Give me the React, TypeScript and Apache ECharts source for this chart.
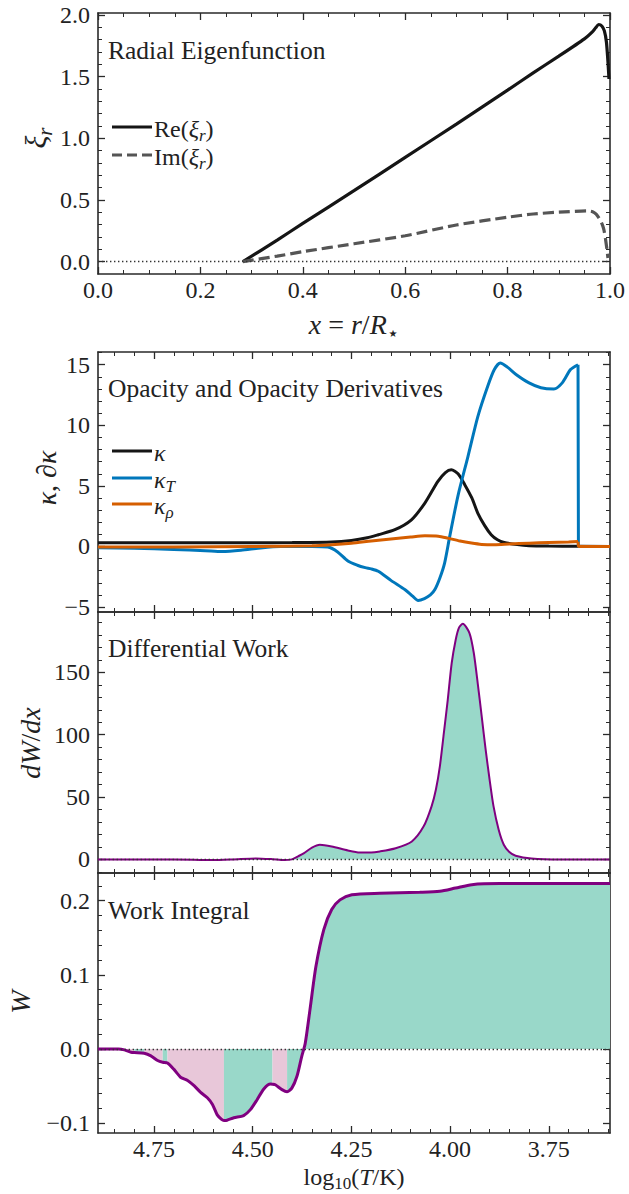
import React, { useEffect, useRef } from 'react';
import * as echarts from 'echarts';

// ---------------- tick labels ----------------
const XI_X_TICKS = [0, 0.2, 0.4, 0.6, 0.8, 1.0];
const XI_Y_TICKS = [0, 0.5, 1.0, 1.5, 2.0];
const LOGT_TICKS = [4.75, 4.5, 4.25, 4.0, 3.75];
const KAPPA_TICKS = [-5, 0, 5, 10, 15];
const DWDX_TICKS = [0, 50, 100, 150];
const W_TICKS = [-0.1, 0, 0.1, 0.2];

// ---------------- panel 1: radial eigenfunction (x = r/R*, xi_r) ----------------
const XI_RE: [number, number][] = [
  [0.283, 0], [0.35, 0.175], [0.4, 0.31], [0.5, 0.575], [0.6, 0.845], [0.7, 1.115],
  [0.8, 1.39], [0.85, 1.53], [0.9, 1.665], [0.95, 1.805], [0.965, 1.86], [0.972, 1.895],
  [0.978, 1.922], [0.984, 1.91], [0.989, 1.87], [0.993, 1.78], [0.996, 1.62], [0.998, 1.48],
];
const XI_IM: [number, number][] = [
  [0.283, 0], [0.35, 0.045], [0.4, 0.081], [0.5, 0.145], [0.6, 0.21], [0.7, 0.297],
  [0.8, 0.36], [0.85, 0.386], [0.9, 0.401], [0.957, 0.411], [0.966, 0.405], [0.973, 0.385],
  [0.979, 0.35], [0.984, 0.31], [0.988, 0.26], [0.991, 0.19], [0.994, 0.1], [0.996, 0.03],
];

// ---------------- panel 2: opacity and derivatives (log10 T, value) ----------------
const KAPPA: [number, number][] = [
  [4.892, 0.3], [4.7, 0.3], [4.5, 0.3], [4.4, 0.32], [4.3, 0.37], [4.25, 0.5], [4.21, 0.72],
  [4.182, 0.97], [4.14, 1.38], [4.098, 2.2], [4.064, 3.58], [4.031, 5.37], [4.012, 6.1],
  [3.997, 6.33], [3.98, 6.0], [3.963, 5.1], [3.945, 4.0], [3.93, 2.76], [3.912, 1.7],
  [3.896, 0.97], [3.88, 0.55], [3.863, 0.33], [3.83, 0.15], [3.8, 0.06], [3.75, 0.03], [3.676, 0.02],
];
const KAPPA_TAIL: [number, number][] = [[3.676, 0.02], [3.675, 0], [3.595, 0]];
const KAPPA_T: [number, number][] = [
  [4.892, -0.1], [4.8, -0.15], [4.7, -0.25], [4.62, -0.35], [4.578, -0.42], [4.53, -0.32],
  [4.48, -0.12], [4.43, 0.0], [4.35, 0.0], [4.31, -0.05], [4.285, -0.45], [4.259, -1.2],
  [4.235, -1.55], [4.215, -1.75], [4.2, -1.85], [4.182, -2.05], [4.15, -2.8], [4.114, -3.58],
  [4.095, -4.1], [4.081, -4.46], [4.065, -4.3], [4.05, -4.0], [4.039, -3.58], [4.026, -2.6],
  [4.014, -1.37], [4.001, 0.83], [3.98, 4.2], [3.955, 7.4], [3.93, 10.7], [3.905, 13.2],
  [3.888, 14.6], [3.873, 15.14], [3.855, 14.8], [3.833, 14.2], [3.8, 13.5], [3.77, 13.1],
  [3.737, 13.0], [3.716, 13.5], [3.695, 14.6], [3.676, 15.0],
];
const KAPPA_T_TAIL: [number, number][] = [[3.676, 15.0], [3.675, 0], [3.595, 0]];
const KAPPA_RHO: [number, number][] = [
  [4.892, -0.05], [4.7, -0.05], [4.5, 0.0], [4.35, 0.05], [4.3, 0.14], [4.25, 0.27], [4.2, 0.45],
  [4.15, 0.62], [4.1, 0.78], [4.064, 0.88], [4.03, 0.85], [4.006, 0.69], [3.975, 0.45],
  [3.946, 0.28], [3.92, 0.17], [3.888, 0.14], [3.85, 0.2], [3.8, 0.27], [3.75, 0.32],
  [3.7, 0.37], [3.676, 0.4],
];
const KAPPA_RHO_TAIL: [number, number][] = [[3.676, 0.4], [3.675, 0], [3.595, 0]];

// ---------------- panel 3: differential work ----------------
const DWDX: [number, number][] = [
  [4.892, 0], [4.75, 0], [4.65, -0.3], [4.603, -0.5], [4.55, 0], [4.492, 0.8], [4.45, 0.2],
  [4.421, -0.5], [4.401, 0], [4.385, 2.5], [4.37, 5], [4.35, 9.5], [4.33, 11.8], [4.3, 10.4],
  [4.259, 7.2], [4.229, 5.6], [4.2, 5.6], [4.178, 6.4], [4.138, 9], [4.097, 14.4], [4.067, 26.5],
  [4.047, 42.5], [4.036, 56], [4.026, 74.6], [4.016, 101], [4.006, 128], [3.996, 157.5],
  [3.986, 176], [3.978, 185.5], [3.968, 189], [3.951, 181.5], [3.94, 165.5], [3.93, 141],
  [3.92, 114.7], [3.91, 88], [3.9, 64], [3.89, 42.5], [3.877, 23.8], [3.864, 11.8], [3.85, 6],
  [3.834, 3], [3.794, 0.8], [3.723, 0], [3.595, 0],
];

// ---------------- panel 4: work integral ----------------
const WORK: [number, number][] = [
  [4.892, 0], [4.84, 0], [4.825, -0.0013], [4.808, -0.0045], [4.8, -0.005], [4.775, -0.006],
  [4.758, -0.0094], [4.741, -0.0157], [4.728, -0.018], [4.716, -0.019], [4.699, -0.028],
  [4.682, -0.0386], [4.665, -0.0426], [4.648, -0.05], [4.632, -0.0587], [4.615, -0.066],
  [4.602, -0.075], [4.59, -0.089], [4.579, -0.095], [4.573, -0.0965], [4.565, -0.0962],
  [4.548, -0.093], [4.523, -0.09], [4.506, -0.082], [4.489, -0.0686], [4.472, -0.054],
  [4.455, -0.0475], [4.45, -0.0476], [4.443, -0.0484], [4.426, -0.055], [4.413, -0.0578],
  [4.401, -0.053], [4.388, -0.037], [4.376, -0.0103], [4.367, 0.0076], [4.355, 0.053],
  [4.34, 0.111], [4.32, 0.161], [4.3, 0.188], [4.279, 0.201], [4.249, 0.208], [4.178, 0.21],
  [4.077, 0.2113], [4.026, 0.2126], [3.986, 0.217], [3.945, 0.2216], [3.874, 0.223], [3.595, 0.223],
];
// sign of dW/dx over log T intervals (hi, lo)
const WORK_SIGN_SEGMENTS: [number, number, 'pos' | 'neg'][] = [
  [4.84, 4.8, 'neg'], [4.8, 4.775, 'pos'], [4.775, 4.728, 'neg'], [4.728, 4.716, 'pos'],
  [4.716, 4.573, 'neg'], [4.573, 4.45, 'pos'], [4.45, 4.413, 'neg'], [4.413, 3.595, 'pos'],
];

// ---------------- styling ----------------
const SERIF = 'Liberation Serif';
const INK = '#222222';
const AXIS_INK = '#2a2a2a';
const TEAL = '#99d8c9';
const PINK = '#e8c7d9';
const PURPLE = '#800080';
const BLUE = '#0077bb';
const ORANGE = '#d55e00';
const BLACK = '#151515';

const GRIDS = [
  { left: 98, top: 13, width: 512, height: 261 },
  { left: 98, top: 352, width: 512, height: 260 },
  { left: 98, top: 612, width: 512, height: 261 },
  { left: 98, top: 873, width: 512, height: 260 },
];

function steps(lo: number, hi: number, step: number): number[] {
  const n = Math.round((hi - lo) / step);
  const out: number[] = [];
  for (let i = 0; i <= n; i++) out.push(Math.round((lo + i * step) * 1e6) / 1e6);
  return out;
}

function fmt(v: number, d: number): string {
  return v.toFixed(d).replace('-', '\u2212');
}

function axisSet(dim: 'x' | 'y', gridIndex: number, min: number, max: number, majors: number[],
  minors: number[], showLabels: boolean, decimals: number, inverse = false) {
  const sides = dim === 'x' ? ['bottom', 'top'] : ['left', 'right'];
  const out: any[] = [];
  sides.forEach((position, si) => {
    out.push({
      type: 'value', gridIndex, position, min, max, inverse,
      axisLine: { show: true, onZero: false, lineStyle: { color: AXIS_INK, width: 1.6 } },
      axisTick: { show: true, inside: true, length: 7, customValues: majors, lineStyle: { color: AXIS_INK, width: 1.3 } },
      axisLabel: {
        show: showLabels && si === 0, customValues: majors,
        formatter: (v: number) => fmt(v, decimals),
        fontFamily: SERIF, fontSize: 24, color: INK, margin: dim === 'x' ? 4 : 8,
      },
      splitLine: { show: false },
    });
    out.push({
      type: 'value', gridIndex, position, min, max, inverse,
      axisLine: { show: false, onZero: false },
      axisTick: { show: true, inside: true, length: 4, customValues: minors, lineStyle: { color: AXIS_INK, width: 1 } },
      axisLabel: { show: false },
      splitLine: { show: false },
    });
  });
  return out;
}

const ZERO_LINE = {
  silent: true, symbol: ['none', 'none'], label: { show: false },
  lineStyle: { type: [1.4, 2.6], color: '#333', width: 1.3 },
  data: [{ yAxis: 0 }],
};

function lineSeries(data: [number, number][], g: number, color: string, width: number, extra: any = {}) {
  return {
    type: 'line', xAxisIndex: g * 4, yAxisIndex: g * 4, data, symbol: 'none', showSymbol: false,
    smooth: 0.25, silent: true, lineStyle: { color, width }, itemStyle: { color }, ...extra,
  };
}

// ----- math text built from measured plain-text pieces -----
type Tok = [string, 'n' | 'i' | 's' | 'r' | 'st'];
let measureCtx: CanvasRenderingContext2D | null = null;
function measure(text: string, size: number, italic: boolean, family: string): number {
  if (!measureCtx) measureCtx = document.createElement('canvas').getContext('2d');
  if (!measureCtx) return text.length * size * 0.5;
  measureCtx.font = `${italic ? 'italic ' : ''}${size}px ${family}`;
  return measureCtx.measureText(text).width;
}

function mathGroup(tokens: Tok[], x: number, y: number, size: number, rotate = false, align: 'left' | 'center' = 'center') {
  let cur = 0;
  const kids: any[] = [];
  tokens.forEach(([t, k]) => {
    const sub = k === 's' || k === 'r' || k === 'st';
    const fs = sub ? Math.round(size * 0.7) : size;
    const italic = k === 'i' || k === 's';
    const fam = k === 'st' ? 'DejaVu Sans' : SERIF;
    const w = measure(t, fs, italic, fam);
    const base = sub ? size * 0.2 : 0;
    kids.push({
      type: 'text', x: cur, y: base - 0.3375 * fs, silent: true,
      style: { text: t, fontFamily: fam, fontSize: fs, fontStyle: italic ? 'italic' : 'normal', fill: INK, align: 'left', verticalAlign: 'middle' },
    });
    cur += w;
  });
  const shiftX = align === 'center' ? -cur / 2 : 0;
  const shiftY = 0.33 * size;
  kids.forEach((c) => { c.x += shiftX; c.y += shiftY; });
  return { type: 'group', x, y, rotation: rotate ? Math.PI / 2 : 0, silent: true, children: kids };
}

function plainText(text: string, x: number, y: number, size: number) {
  return {
    type: 'text', x, y, silent: true,
    style: { text, fontFamily: SERIF, fontSize: size, fill: INK, align: 'left', verticalAlign: 'middle' },
  };
}

function legendLine(x1: number, x2: number, y: number, color: string, dash?: number[]) {
  return {
    type: 'line', silent: true,
    shape: { x1, y1: y, x2, y2: y },
    style: { stroke: color, lineWidth: 3, lineDash: dash || null },
  };
}

function buildOption() {
  const xAxis = [
    ...axisSet('x', 0, 0, 1, XI_X_TICKS, steps(0, 1, 0.05), true, 1),
    ...axisSet('x', 1, 3.595, 4.892, LOGT_TICKS, steps(3.6, 4.85, 0.05), false, 2, true),
    ...axisSet('x', 2, 3.595, 4.892, LOGT_TICKS, steps(3.6, 4.85, 0.05), false, 2, true),
    ...axisSet('x', 3, 3.595, 4.892, LOGT_TICKS, steps(3.6, 4.85, 0.05), true, 2, true),
  ];
  const yAxis = [
    ...axisSet('y', 0, -0.1, 2.015, XI_Y_TICKS, steps(0, 2.0, 0.1), true, 1),
    ...axisSet('y', 1, -5.41, 16.05, KAPPA_TICKS, steps(-5, 16, 1), true, 0),
    ...axisSet('y', 2, -10.9, 198.4, DWDX_TICKS, steps(-10, 190, 10), true, 0),
    ...axisSet('y', 3, -0.1135, 0.2373, W_TICKS, steps(-0.1, 0.22, 0.02), true, 1),
  ];

  const series: any[] = [
    lineSeries(XI_RE, 0, BLACK, 3.2, { markLine: ZERO_LINE }),
    lineSeries(XI_IM, 0, '#555555', 3.2, { lineStyle: { color: '#555555', width: 3.2, type: [11, 5] } }),
    lineSeries(KAPPA, 1, BLACK, 3),
    lineSeries(KAPPA_TAIL, 1, BLACK, 3, { smooth: false }),
    lineSeries(KAPPA_T, 1, BLUE, 3),
    lineSeries(KAPPA_T_TAIL, 1, BLUE, 3, { smooth: false }),
    lineSeries(KAPPA_RHO, 1, ORANGE, 3),
    lineSeries(KAPPA_RHO_TAIL, 1, ORANGE, 3, { smooth: false }),
    lineSeries(DWDX, 2, TEAL, 0, { lineStyle: { width: 0, opacity: 0 }, areaStyle: { color: TEAL, opacity: 1 } }),
    lineSeries(DWDX, 2, PURPLE, 2, { markLine: ZERO_LINE }),
    ...WORK_SIGN_SEGMENTS.map(([hi, lo, sign]) =>
      lineSeries(WORK.filter(([t]) => t <= hi + 1e-9 && t >= lo - 1e-9), 3, sign === 'pos' ? TEAL : PINK, 0, {
        lineStyle: { width: 0, opacity: 0 },
        areaStyle: { color: sign === 'pos' ? TEAL : PINK, opacity: 1 },
      })),
    lineSeries(WORK, 3, PURPLE, 3, { markLine: ZERO_LINE }),
  ];

  const graphic = [
    plainText('Radial Eigenfunction', 108, 50, 25.5),
    plainText('Opacity and Opacity Derivatives', 108, 388, 25.5),
    plainText('Differential Work', 108, 648, 25.5),
    plainText('Work Integral', 108, 910, 25.5),
    legendLine(112, 152, 127, BLACK),
    mathGroup([['Re(', 'n'], ['ξ', 'i'], ['r', 's'], [')', 'n']], 154, 129, 24, false, 'left'),
    legendLine(112, 152, 155, '#555555', [10, 5]),
    mathGroup([['Im(', 'n'], ['ξ', 'i'], ['r', 's'], [')', 'n']], 154, 157, 24, false, 'left'),
    legendLine(112, 152, 451, BLACK),
    mathGroup([['κ', 'i']], 154, 453, 24, false, 'left'),
    legendLine(112, 152, 478, BLUE),
    mathGroup([['κ', 'i'], ['T', 's']], 154, 480, 24, false, 'left'),
    legendLine(112, 152, 504, ORANGE),
    mathGroup([['κ', 'i'], ['ρ', 's']], 154, 506, 24, false, 'left'),
    mathGroup([['ξ', 'i'], ['r', 's']], 36, 138, 30, true),
    mathGroup([['κ', 'i'], [', ', 'n'], ['∂κ', 'i']], 47, 478, 28, true),
    mathGroup([['dW', 'i'], ['/', 'n'], ['dx', 'i']], 31, 743, 28, true),
    mathGroup([['W', 'i']], 21, 1002, 28, true),
    mathGroup([['x', 'i'], [' = ', 'n'], ['r', 'i'], ['/', 'n'], ['R', 'i'], ['⋆', 'st']], 354, 325, 28),
    mathGroup([['log', 'n'], ['10', 'r'], ['(', 'n'], ['T', 'i'], ['/K)', 'n']], 354, 1177, 24),
  ];

  return {
    animation: false,
    backgroundColor: '#ffffff',
    textStyle: { fontFamily: SERIF },
    grid: GRIDS.map((g) => ({ ...g, containLabel: false })),
    xAxis,
    yAxis,
    series,
    graphic: { elements: graphic },
  };
}

export default function App() {
  const ref = useRef<HTMLDivElement>(null);
  useEffect(() => {
    if (!ref.current) return;
    const chart = echarts.init(ref.current, null, { renderer: 'svg' });
    chart.setOption(buildOption() as any);
    return () => chart.dispose();
  }, []);
  return (
    <div
      ref={ref}
      style={{ position: 'absolute', left: 0, top: 0, width: 629, height: 1194, background: '#fff' }}
    />
  );
}
